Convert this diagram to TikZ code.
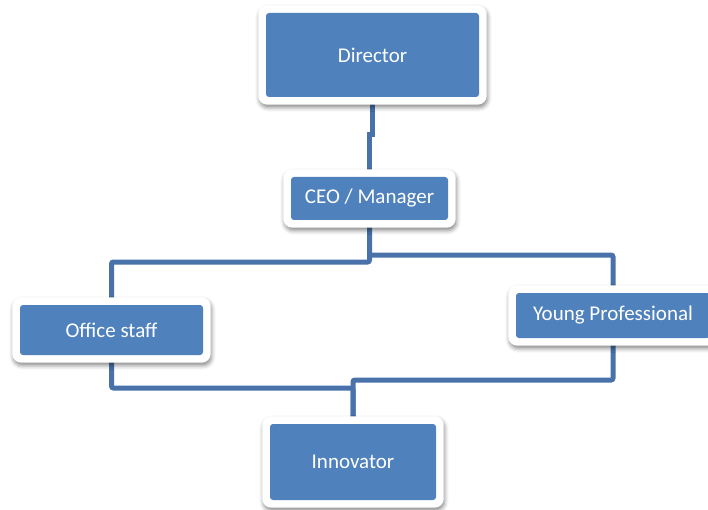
\documentclass[tikz,border=0pt]{standalone}
\usepackage{fontspec}
\setmainfont{Carlito}
\usepackage{tikz}
\usetikzlibrary{backgrounds,shadows.blur}

\definecolor{boxblue}{RGB}{79,129,189}
\definecolor{linkblue}{RGB}{72,114,169}

\tikzset{
	rolebox/.style={rectangle, rounded corners=3pt, fill=boxblue, text=white,
		font=\fontsize{21}{25}\selectfont, inner sep=0pt},
	roleframe/.style={fill=white, rounded corners=9pt,
		blur shadow={shadow xshift=1pt, shadow yshift=-3pt, shadow blur radius=4pt, shadow opacity=45}},
	link/.style={draw=linkblue, line width=5pt, rounded corners=2pt}
}

\begin{document}
\begin{tikzpicture}[x=1pt, y=-1pt]
	\useasboundingbox (0,0) rectangle (708,510);

	\node[rolebox, minimum width=213pt, minimum height=84pt] (dir) at (372.5,55) {Director};
	\node[rolebox, minimum width=157pt, minimum height=43pt] (ceo) at (369.5,198.5) {CEO / Manager};
	\node[rolebox, minimum width=183pt, minimum height=50pt] (off) at (111.5,330) {Office staff};
	\node[rolebox, minimum width=194pt, minimum height=45pt] (yp) at (613,315.5) {Young Professional};
	\node[rolebox, minimum width=166pt, minimum height=76pt] (inn) at (353,462) {Innovator};

	\begin{scope}[on background layer]
		% director to manager, with the small jog
		\draw[link, sharp corners] (dir.south) -- (dir.south |- 0,135) -- (ceo.north |- 0,135) -- (ceo.north);

		% manager to the two branches
		\draw[link] (ceo.south) |- (off.north |- 0,262) -- (off.north);
		\draw[link] (ceo.south |- 0,255) -| (yp.north);

		% both branches down to the innovator
		\draw[link] (off.south) |- (inn.north |- 0,388) -- (inn.north);
		\draw[link] (yp.south) |- (inn.north |- 0,380) -- (inn.north);

		% white frames round the boxes
		\foreach \n in {dir,ceo,off,yp,inn}
			\path[roleframe] ([shift={(-7.5pt,7.5pt)}]\n.north west) rectangle ([shift={(7.5pt,-7.5pt)}]\n.south east);
	\end{scope}
\end{tikzpicture}
\end{document}
